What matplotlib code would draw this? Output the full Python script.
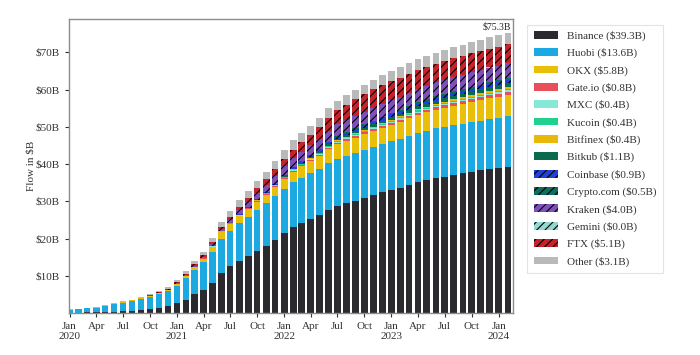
import matplotlib
matplotlib.use("Agg")
import matplotlib.pyplot as plt
import matplotlib.dates as mdates
from matplotlib.ticker import FuncFormatter
import numpy as np
import pandas as pd

plt.rcParams['font.family'] = ['Liberation Serif', 'DejaVu Serif']
plt.rcParams['hatch.linewidth'] = 0.8

# cumulative flow per exchange, $B, monthly Jan 2020 - Feb 2024
months = pd.date_range("2020-01-01", "2024-02-01", freq="MS")

binance = [0.10, 0.10, 0.15, 0.20, 0.25, 0.30, 0.50, 0.60, 0.85, 1.10, 1.40, 2.00,
           2.7, 3.6, 5.0, 6.3, 8.1, 10.7, 12.5, 13.9, 15.2, 16.7, 18.0, 19.7,
           21.4, 23.0, 24.1, 25.2, 26.3, 27.7, 28.8, 29.5, 30.2, 31.0, 31.6, 32.4,
           33.1, 33.7, 34.5, 35.2, 35.7, 36.2, 36.6, 37.1, 37.5, 37.9, 38.3, 38.6,
           38.9, 39.3]
huobi = [0.80, 0.95, 1.10, 1.25, 1.65, 2.00, 2.25, 2.60, 2.85, 3.20, 3.60, 3.90,
         4.6, 5.7, 6.5, 7.3, 8.3, 9.3, 9.6, 10.2, 10.7, 11.0, 11.5, 11.7,
         12.0, 12.2, 12.3, 12.4, 12.5, 12.6, 12.7, 12.7, 12.8, 12.8, 12.9, 12.9,
         13.0, 13.1, 13.1, 13.2, 13.3, 13.4, 13.4, 13.4, 13.4, 13.4, 13.4, 13.5,
         13.5, 13.6]
okx = [0.03, 0.05, 0.05, 0.05, 0.07, 0.10, 0.12, 0.14, 0.17, 0.22, 0.28, 0.33,
       0.45, 0.60, 0.80, 1.00, 1.35, 1.65, 1.75, 1.90, 2.00, 2.10, 2.25, 2.40,
       2.6, 2.8, 3.0, 3.2, 3.4, 3.7, 3.85, 4.0, 4.1, 4.2, 4.3, 4.4,
       4.5, 4.6, 4.7, 4.8, 4.9, 5.0, 5.1, 5.2, 5.3, 5.4, 5.5, 5.6,
       5.7, 5.8]
gate = [0, 0, 0, 0, 0, 0.01, 0.01, 0.01, 0.01, 0.02, 0.02, 0.03,
        0.04, 0.05, 0.06, 0.07, 0.10, 0.13, 0.14, 0.16, 0.18, 0.20, 0.22, 0.24,
        0.26, 0.29, 0.32, 0.35, 0.38, 0.42, 0.45, 0.49, 0.50, 0.52, 0.53, 0.55,
        0.57, 0.59, 0.61, 0.63, 0.65, 0.67, 0.69, 0.70, 0.72, 0.74, 0.76, 0.78,
        0.79, 0.80]
mxc = [0, 0, 0, 0, 0, 0, 0, 0, 0.01, 0.01, 0.01, 0.01,
       0.01, 0.01, 0.02, 0.02, 0.03, 0.04, 0.05, 0.06, 0.07, 0.08, 0.09, 0.10,
       0.11, 0.12, 0.13, 0.15, 0.16, 0.18, 0.20, 0.22, 0.23, 0.24, 0.25, 0.26,
       0.27, 0.28, 0.29, 0.30, 0.31, 0.32, 0.33, 0.34, 0.35, 0.36, 0.37, 0.38,
       0.39, 0.40]
kucoin = [0, 0, 0, 0, 0, 0, 0, 0, 0, 0, 0.01, 0.01,
          0.01, 0.01, 0.01, 0.02, 0.03, 0.04, 0.04, 0.05, 0.06, 0.07, 0.08, 0.09,
          0.10, 0.11, 0.13, 0.14, 0.16, 0.18, 0.20, 0.22, 0.23, 0.24, 0.25, 0.26,
          0.27, 0.28, 0.29, 0.30, 0.31, 0.32, 0.33, 0.34, 0.35, 0.36, 0.37, 0.38,
          0.39, 0.40]
bitfinex = [0.01, 0.01, 0.01, 0.01, 0.01, 0.01, 0.01, 0.01, 0.01, 0.01, 0.01, 0.02,
            0.02, 0.03, 0.04, 0.04, 0.05, 0.06, 0.06, 0.07, 0.08, 0.08, 0.09, 0.10,
            0.11, 0.12, 0.13, 0.14, 0.15, 0.17, 0.19, 0.21, 0.22, 0.23, 0.24, 0.25,
            0.26, 0.27, 0.28, 0.29, 0.30, 0.31, 0.32, 0.33, 0.34, 0.35, 0.36, 0.38,
            0.39, 0.40]
bitkub = [0, 0, 0, 0, 0, 0, 0, 0, 0, 0, 0, 0,
          0, 0, 0, 0, 0, 0, 0.01, 0.02, 0.03, 0.04, 0.06, 0.08,
          0.10, 0.13, 0.17, 0.22, 0.28, 0.36, 0.42, 0.50, 0.53, 0.57, 0.60, 0.63,
          0.67, 0.70, 0.74, 0.77, 0.80, 0.84, 0.87, 0.90, 0.93, 0.96, 1.00, 1.04,
          1.07, 1.10]
coinbase = [0, 0, 0, 0, 0, 0, 0, 0, 0.01, 0.01, 0.02, 0.02,
            0.03, 0.04, 0.05, 0.06, 0.09, 0.12, 0.14, 0.17, 0.20, 0.24, 0.27, 0.30,
            0.33, 0.37, 0.41, 0.45, 0.49, 0.54, 0.57, 0.61, 0.63, 0.66, 0.68, 0.70,
            0.72, 0.74, 0.76, 0.77, 0.79, 0.80, 0.82, 0.83, 0.84, 0.85, 0.86, 0.88,
            0.89, 0.90]
crypto_com = [0, 0, 0, 0, 0, 0, 0, 0, 0, 0, 0, 0,
              0, 0, 0, 0, 0, 0, 0, 0.01, 0.02, 0.03, 0.04, 0.05,
              0.06, 0.08, 0.10, 0.12, 0.14, 0.17, 0.20, 0.25, 0.27, 0.30, 0.30, 0.31,
              0.32, 0.33, 0.34, 0.36, 0.37, 0.38, 0.40, 0.42, 0.44, 0.46, 0.47, 0.48,
              0.49, 0.50]
kraken = [0, 0, 0, 0, 0.01, 0.02, 0.03, 0.04, 0.05, 0.07, 0.09, 0.12,
          0.17, 0.22, 0.28, 0.35, 0.48, 0.60, 0.80, 1.05, 1.30, 1.60, 1.85, 2.15,
          2.30, 2.45, 2.55, 2.65, 2.80, 3.00, 3.10, 3.20, 3.25, 3.30, 3.35, 3.40,
          3.45, 3.50, 3.55, 3.60, 3.65, 3.70, 3.75, 3.80, 3.85, 3.88, 3.90, 3.93,
          3.95, 3.98]
gemini = [0, 0, 0, 0, 0, 0, 0, 0, 0, 0, 0, 0,
          0, 0, 0, 0, 0, 0, 0, 0, 0, 0, 0, 0,
          0, 0, 0, 0.01, 0.01, 0.01, 0.01, 0.01, 0.01, 0.01, 0.01, 0.01,
          0.01, 0.01, 0.01, 0.01, 0.02, 0.02, 0.02, 0.02, 0.02, 0.02, 0.02, 0.02,
          0.02, 0.02]
ftx = [0, 0, 0, 0, 0.01, 0.02, 0.03, 0.04, 0.05, 0.08, 0.10, 0.13,
       0.18, 0.25, 0.30, 0.35, 0.47, 0.60, 0.80, 1.00, 1.15, 1.35, 1.50, 1.70,
       1.95, 2.25, 2.50, 2.75, 3.10, 3.50, 3.75, 4.10, 4.40, 4.70, 5.08, 5.08,
       5.08, 5.08, 5.08, 5.08, 5.08, 5.08, 5.08, 5.08, 5.08, 5.08, 5.08, 5.08,
       5.08, 5.08]
other = [0.06, 0.09, 0.09, 0.09, 0.10, 0.14, 0.15, 0.16, 0.20, 0.29, 0.38, 0.45,
         0.60, 0.80, 0.95, 1.00, 1.20, 1.25, 1.40, 1.65, 1.80, 1.95, 2.00, 2.20,
         2.40, 2.50, 2.55, 2.60, 2.60, 2.60, 2.60, 2.60, 2.60, 2.60, 2.65, 2.70,
         2.75, 2.80, 2.85, 2.88, 2.90, 2.92, 2.95, 2.97, 2.99, 3.00, 3.02, 3.04,
         3.05, 3.06]

# name, values, colour, hatch (bottom to top)
series = [
    ("Binance", binance, "#2b2b2f", None),
    ("Huobi", huobi, "#1ca8e0", None),
    ("OKX", okx, "#eabf0a", None),
    ("Gate.io", gate, "#e84f5c", None),
    ("MXC", mxc, "#88e8d8", None),
    ("Kucoin", kucoin, "#20d08f", None),
    ("Bitfinex", bitfinex, "#e8b90c", None),
    ("Bitkub", bitkub, "#0a6a4e", None),
    ("Coinbase", coinbase, "#2040d8", "////"),
    ("Crypto.com", crypto_com, "#0d6e60", "////"),
    ("Kraken", kraken, "#7d4fb9", "////"),
    ("Gemini", gemini, "#8fd9d1", "////"),
    ("FTX", ftx, "#c5222b", "////"),
    ("Other", other, "#b9b9b9", None),
]

fig = plt.figure(figsize=(7, 3.55), dpi=100)
ax = fig.add_axes([0.0986, 0.1183, 0.6343, 0.8282])

bottom = np.zeros(len(months))
for name, vals, color, hatch in series:
    vals = np.array(vals)
    ax.bar(months, vals, width=22, bottom=bottom, color=color, hatch=hatch,
           edgecolor="black", linewidth=0, label=f"{name} (${vals[-1]:.1f}B)")
    bottom += vals

ax.text(months[-1] + pd.Timedelta(days=11), bottom[-1] + 0.3, f"${bottom[-1]:.1f}B",
        ha="right", va="bottom", fontsize=7, color="#222222")

ax.set_xlim(pd.Timestamp("2019-12-30"), pd.Timestamp("2024-02-19"))
ax.set_ylim(0, 79)
ax.set_yticks(np.arange(10, 80, 10))
ax.yaxis.set_major_formatter(FuncFormatter(lambda v, p: f"${v:.0f}B"))

ax.xaxis.set_major_locator(mdates.MonthLocator(bymonth=[1, 4, 7, 10]))
def fmt_month(x, pos):
    d = mdates.num2date(x)
    return d.strftime("%b\n%Y") if d.month == 1 else d.strftime("%b")
ax.xaxis.set_major_formatter(FuncFormatter(fmt_month))

ax.tick_params(labelsize=8, colors="#333333", length=3, width=0.8)
for sp in ax.spines.values():
    sp.set_color("#8c8c8c")
    sp.set_linewidth(1.0)

ax.set_ylabel("Flow in $B", fontsize=8, color="#333333", labelpad=0)

leg = ax.legend(loc="upper left", bbox_to_anchor=(1.02, 1.0), fontsize=8,
                handlelength=2.2, handletextpad=0.85, labelspacing=0.64,
                borderpad=0.55, frameon=True, fancybox=False)
leg.get_frame().set_edgecolor("#dddddd")
leg.get_frame().set_linewidth(0.8)
for t in leg.get_texts():
    t.set_color("#333333")

fig.savefig("out.png", dpi=100)
